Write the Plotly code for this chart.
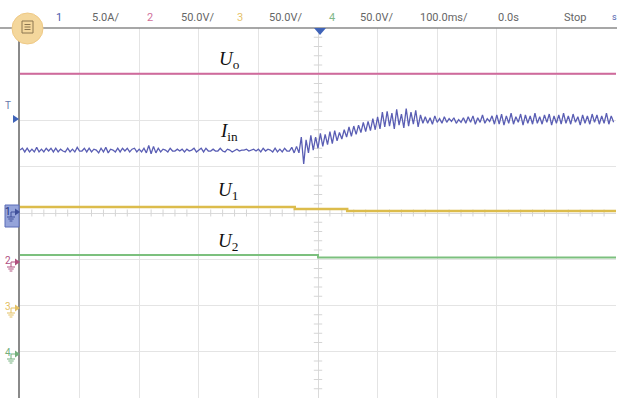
import plotly.graph_objects as go

# ---------------- data ----------------
sample_step_ms = 4
time_ms = [-500 + sample_step_ms * i for i in range(250)]

iin_A = [
    6.8, 7.0, 6.6, 7.0, 6.6, 6.9, 6.6, 7.1, 6.6, 6.9,
    6.6, 7.0, 6.7, 7.0, 6.6, 7.0, 6.6, 6.9, 6.7, 6.6,
    7.0, 6.6, 6.9, 6.6, 7.1, 6.7, 6.7, 7.0, 6.6, 7.0,
    6.6, 6.9, 6.8, 6.5, 7.0, 6.6, 7.1, 6.5, 6.9, 6.8,
    6.6, 7.0, 6.6, 7.0, 6.7, 7.0, 6.6, 6.9, 7.0, 6.6,
    6.9, 6.6, 7.0, 6.5, 7.3, 6.4, 7.2, 6.5, 7.0, 6.6,
    6.9, 6.8, 6.6, 7.0, 6.7, 6.7, 6.9, 6.7, 6.9, 6.6,
    6.9, 6.7, 6.8, 7.0, 6.6, 6.8, 7.0, 6.6, 7.0, 6.7,
    6.7, 6.9, 6.7, 6.7, 7.0, 6.7, 6.6, 6.9, 6.8, 6.6,
    6.8, 6.9, 6.7, 6.8, 6.8, 6.9, 6.7, 6.8, 6.9, 6.7,
    6.9, 6.6, 7.0, 6.7, 6.9, 6.8, 6.6, 7.0, 6.6, 6.9,
    6.6, 7.0, 6.7, 6.7, 7.1, 6.5, 7.2, 6.5, 8.2, 5.3,
    7.9, 6.5, 8.4, 6.8, 8.2, 7.0, 8.6, 7.2, 8.5, 7.4,
    8.8, 7.5, 8.9, 7.8, 8.7, 8.0, 9.0, 8.2, 9.3, 8.3,
    9.4, 8.5, 9.5, 8.7, 9.8, 8.8, 9.9, 8.9, 10.2, 9.0,
    10.4, 9.1, 10.9, 9.3, 11.0, 9.4, 10.8, 9.1, 11.2, 9.5,
    10.7, 9.2, 11.3, 9.4, 10.9, 9.6, 11.1, 9.3, 10.6, 9.7,
    10.4, 9.7, 10.3, 9.6, 10.5, 9.8, 10.2, 9.7, 10.4, 9.8,
    10.2, 9.9, 10.3, 9.7, 10.1, 9.8, 10.3, 9.7, 10.4, 9.8,
    10.5, 9.6, 10.3, 9.8, 10.6, 9.7, 10.2, 9.9, 10.5, 9.6,
    10.6, 9.6, 10.7, 9.5, 10.5, 9.7, 10.8, 9.6, 10.4, 9.8,
    10.7, 9.5, 10.6, 9.7, 10.5, 9.6, 10.8, 9.7, 10.4, 9.6,
    10.6, 9.8, 10.7, 9.5, 10.5, 9.7, 10.6, 9.6, 10.8, 9.7,
    10.5, 9.6, 10.7, 9.8, 10.4, 9.5, 10.6, 9.7, 10.5, 9.6,
    10.7, 9.8, 10.6, 9.6, 10.5, 9.7, 10.8, 9.6, 10.5, 9.8,
]

uo_t = [-500, 500]
uo_V = [200.5, 200.5]
u1_t = [-500, -39, 49, 500]
u1_V = [106.5, 104.3, 102.2, 102.2]
u2_t = [-500, 0, 500]
u2_V = [104.6, 101.9, 101.9]

# channel settings: (scale per div, offset in div)
ch1_scale, ch1_off = 5.0, 0.0
ch2_scale, ch2_off = 50.0, -1.0
ch3_scale, ch3_off = 50.0, -2.0
ch4_scale, ch4_off = 50.0, -3.0

header_items = [
    ("1", 59, "#4b5cab"), ("5.0A/", 105, "#666"),
    ("2", 150, "#d0709a"), ("50.0V/", 197, "#666"),
    ("3", 240, "#e6c36a"), ("50.0V/", 285, "#666"),
    ("4", 332, "#7fb88a"), ("50.0V/", 376, "#666"),
    ("100.0ms/", 444, "#666"), ("0.0s", 508, "#666"), ("Stop", 575, "#666"),
]

# ---------------- colours ----------------
C_IIN = "#5a5eb4"
C_UO = "#d06a9c"
C_U1 = "#dcbc4c"
C_U2 = "#7cc07e"

# ---------------- figure ----------------
W, H = 619, 399
L, R, T, B = 20, 616, 28, 398


def px(x):
    return (x - L) / (R - L)


def py(y):
    return (B - y) / (B - T)


def to_div(vals, scale, off):
    return [v / scale + off for v in vals]


fig = go.Figure()

# centre-line minor ticks (graticule decoration)
tick_x = [t for t in range(-500, 501, 20) if t % 100 != 0]
fig.add_trace(go.Scatter(x=tick_x, y=[0] * len(tick_x), mode="markers",
                         marker=dict(symbol="line-ns", size=5, line=dict(color="#d5d5d5", width=1)),
                         hoverinfo="skip", showlegend=False))
tick_y = [i / 5 for i in range(-20, 21) if i % 5 != 0]
fig.add_trace(go.Scatter(x=[0] * len(tick_y), y=tick_y, mode="markers",
                         marker=dict(symbol="line-ew", size=6, line=dict(color="#d5d5d5", width=1)),
                         hoverinfo="skip", showlegend=False))

fig.add_trace(go.Scatter(x=uo_t, y=to_div(uo_V, ch2_scale, ch2_off), mode="lines",
                         line=dict(color=C_UO, width=2), name="Uo"))
fig.add_trace(go.Scatter(x=time_ms, y=to_div(iin_A, ch1_scale, ch1_off), mode="lines",
                         line=dict(color=C_IIN, width=1.3), name="Iin"))
fig.add_trace(go.Scatter(x=u1_t, y=to_div(u1_V, ch3_scale, ch3_off), mode="lines",
                         line=dict(color=C_U1, width=2.5, shape="hv"), name="U1"))
fig.add_trace(go.Scatter(x=u2_t, y=to_div(u2_V, ch4_scale, ch4_off), mode="lines",
                         line=dict(color=C_U2, width=2, shape="hv"), name="U2"))

shapes = []
# top border line across header
shapes.append(dict(type="line", xref="paper", yref="paper", x0=px(0), x1=px(617), y0=py(28), y1=py(28),
                   line=dict(color="#8a8a8a", width=1.5)))
# trigger marker at top
shapes.append(dict(type="path", xref="paper", yref="paper",
                   path=f"M {px(314)},{py(28)} L {px(326)},{py(28)} L {px(320)},{py(35)} Z",
                   fillcolor="#3f63b8", line=dict(width=0)))
# menu circle
shapes.append(dict(type="circle", xref="paper", yref="paper", x0=px(12), x1=px(43), y0=py(13), y1=py(44),
                   fillcolor="#f4d79c", line=dict(color="#efc985", width=1)))
shapes.append(dict(type="rect", xref="paper", yref="paper", x0=px(22), x1=px(33), y0=py(21), y1=py(33),
                   fillcolor="rgba(0,0,0,0)", line=dict(color="#8c7650", width=1)))
for yy in (24.5, 27, 29.5):
    shapes.append(dict(type="line", xref="paper", yref="paper", x0=px(24.5), x1=px(30.5), y0=py(yy), y1=py(yy),
                       line=dict(color="#8c7650", width=1)))
# trigger level marker on left
shapes.append(dict(type="path", xref="paper", yref="paper",
                   path=f"M {px(13)},{py(115)} L {px(19)},{py(119)} L {px(13)},{py(123)} Z",
                   fillcolor="#3f63b8", line=dict(width=0)))
# channel 1 box
shapes.append(dict(type="rect", xref="paper", yref="paper", x0=px(5), x1=px(19), y0=py(205), y1=py(227),
                   fillcolor="#95a4da", line=dict(color="#5a6cb8", width=1)))


def ground(cx, cy, color):
    out = []
    out.append(dict(type="path", xref="paper", yref="paper",
                    path=f"M {px(cx+1)},{py(cy-3.5)} L {px(cx+6)},{py(cy)} L {px(cx+1)},{py(cy+3.5)} Z",
                    fillcolor=color, line=dict(width=0)))
    out.append(dict(type="line", xref="paper", yref="paper", x0=px(cx - 3), x1=px(cx + 1), y0=py(cy), y1=py(cy),
                    line=dict(color=color, width=1)))
    out.append(dict(type="line", xref="paper", yref="paper", x0=px(cx - 3), x1=px(cx - 3), y0=py(cy), y1=py(cy + 5),
                    line=dict(color=color, width=1)))
    for dy, hw in ((5, 4), (7, 2.7), (9, 1.4)):
        out.append(dict(type="line", xref="paper", yref="paper", x0=px(cx - 3 - hw), x1=px(cx - 3 + hw),
                        y0=py(cy + dy), y1=py(cy + dy), line=dict(color=color, width=1)))
    return out


shapes += ground(14, 212, "#3f4f9a")
shapes += ground(14, 262, "#b0507f")
shapes += ground(14, 308, "#e3c063")
shapes += ground(14, 354, "#73b07c")

annotations = []
for txt, x, col in header_items:
    annotations.append(dict(text=txt, x=px(x), y=py(17), xref="paper", yref="paper", showarrow=False,
                            xanchor="center", yanchor="middle",
                            font=dict(family="Roboto, Arial", size=11, color=col)))
annotations.append(dict(text="s", x=px(619), y=py(17), xref="paper", yref="paper", showarrow=False,
                        xanchor="right", yanchor="middle", font=dict(family="Roboto", size=9, color="#4b5cab")))
# left markers
for txt, y, col in (("T", 106, "#6677aa"), ("1", 211, "#1f2f7a"), ("2", 260, "#b0507f"),
                    ("3", 306, "#e3c063"), ("4", 352, "#73b07c")):
    annotations.append(dict(text=txt, x=px(8), y=py(y), xref="paper", yref="paper", showarrow=False,
                            xanchor="center", yanchor="middle",
                            font=dict(family="Roboto", size=10, color=col)))
# trace labels
for txt, x, y in (("<i>U</i><sub>o</sub>", 229, 60), ("<i>I</i><sub>in</sub>", 229, 132),
                  ("<i>U</i><sub>1</sub>", 228, 191), ("<i>U</i><sub>2</sub>", 228, 242)):
    annotations.append(dict(text=txt, x=px(x), y=py(y), xref="paper", yref="paper", showarrow=False,
                            xanchor="center", yanchor="middle",
                            font=dict(family="Liberation Serif", size=19, color="#111")))

fig.update_layout(
    width=W, height=H,
    margin=dict(l=L, r=W - R, t=T, b=H - B),
    paper_bgcolor="white", plot_bgcolor="white",
    showlegend=False,
    shapes=shapes, annotations=annotations,
    xaxis=dict(range=[-500, 500], dtick=100, tick0=-500, showticklabels=False, ticks="",
               showgrid=True, gridcolor="#e4e4e4", gridwidth=1, zeroline=True, zerolinecolor="#dadada",
               zerolinewidth=1, showline=False, fixedrange=True),
    yaxis=dict(range=[-4, 4], dtick=1, tick0=-4, showticklabels=False, ticks="",
               showgrid=True, gridcolor="#e4e4e4", gridwidth=1, zeroline=True, zerolinecolor="#dadada",
               zerolinewidth=1, showline=True, linecolor="#8a8a8a", linewidth=2, mirror=False,
               fixedrange=True),
)

fig.write_html("out.html", config={"displayModeBar": False},
               post_script="document.body.style.margin='0';document.body.style.overflow='hidden';")
